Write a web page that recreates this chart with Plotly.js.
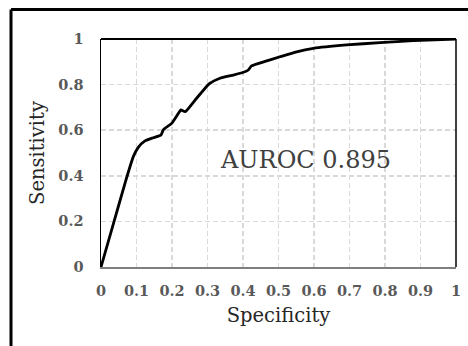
<!DOCTYPE html>
<html>
<head>
<meta charset="utf-8">
<script src="https://cdn.plot.ly/plotly-3.0.1.min.js"></script>
<style>html,body{margin:0;padding:0;background:#fff;}#chart{width:468px;height:346px;}</style>
</head>
<body>
<div id="chart"></div>
<script>
const specificity = [0, 0.035, 0.07, 0.091, 0.105, 0.124, 0.147, 0.169, 0.176, 0.199, 0.218, 0.225, 0.237, 0.265, 0.298, 0.307, 0.335, 0.373, 0.401, 0.415, 0.424, 0.467, 0.504, 0.551, 0.598, 0.692, 0.786, 0.88, 1];
const sensitivity = [0, 0.19, 0.38, 0.484, 0.525, 0.553, 0.567, 0.579, 0.603, 0.630, 0.674, 0.689, 0.681, 0.732, 0.793, 0.806, 0.828, 0.842, 0.854, 0.864, 0.882, 0.904, 0.922, 0.944, 0.959, 0.974, 0.984, 0.993, 1];
const aurocLabel = "AUROC 0.895";
const xTitle = "Specificity";
const yTitle = "Sensitivity";

const serif = "DejaVu Serif";
const tickFont = {family: serif, size: 14.5, color: "#595959", weight: 700};
const titleFont = {family: serif, size: 19.5, color: "#262626"};

const trace = {
  x: specificity, y: sensitivity, type: "scatter", mode: "lines",
  line: {color: "#000000", width: 2.8, shape: "spline", smoothing: 0.5},
  hoverinfo: "skip", showlegend: false
};

const layout = {
  width: 468, height: 346,
  margin: {l: 101, r: 12, t: 39, b: 79},
  paper_bgcolor: "#ffffff", plot_bgcolor: "#ffffff",
  showlegend: false,
  xaxis: {
    range: [0, 1], dtick: 0.1, tick0: 0, fixedrange: true,
    showgrid: true, gridcolor: "#d9d9d9", gridwidth: 1.5, griddash: "5px,3px",
    zeroline: false, showline: true, linecolor: "#7f7f7f", linewidth: 2,
    ticks: "", ticklabelstandoff: 10, tickfont: tickFont,
    title: {text: xTitle, font: titleFont, standoff: 10}
  },
  yaxis: {
    range: [0, 1], dtick: 0.2, tick0: 0, fixedrange: true,
    showgrid: true, gridcolor: "#d9d9d9", gridwidth: 1.5, griddash: "5px,3px",
    zeroline: false, showline: true, linecolor: "#000000", linewidth: 1.5,
    ticks: "", ticklabelstandoff: 13, tickfont: tickFont,
    title: {text: yTitle, font: titleFont, standoff: 8}
  },
  shapes: [
    {type: "line", xref: "paper", yref: "paper", x0: 0, x1: 1, y0: 1, y1: 1, line: {color: "#000000", width: 2}, layer: "above"},
    {type: "line", xref: "paper", yref: "paper", x0: 1, x1: 1, y0: 0, y1: 1, line: {color: "#000000", width: 1.5}, layer: "above"},
    {type: "line", xref: "paper", yref: "paper", x0: -0.2535, x1: 1.2, y0: 1.1296, y1: 1.1296, line: {color: "#000000", width: 3}},
    {type: "line", xref: "paper", yref: "paper", x0: -0.2535, x1: -0.2535, y0: -0.5, y1: 1.1296, line: {color: "#000000", width: 3}}
  ],
  annotations: [
    {text: aurocLabel, x: 0.576, y: 0.469, xref: "x", yref: "y", showarrow: false,
     font: {family: serif, size: 24, color: "#404040"}, xanchor: "center", yanchor: "middle"}
  ]
};

Plotly.newPlot("chart", [trace], layout, {displayModeBar: false, staticPlot: true});
</script>
</body>
</html>
